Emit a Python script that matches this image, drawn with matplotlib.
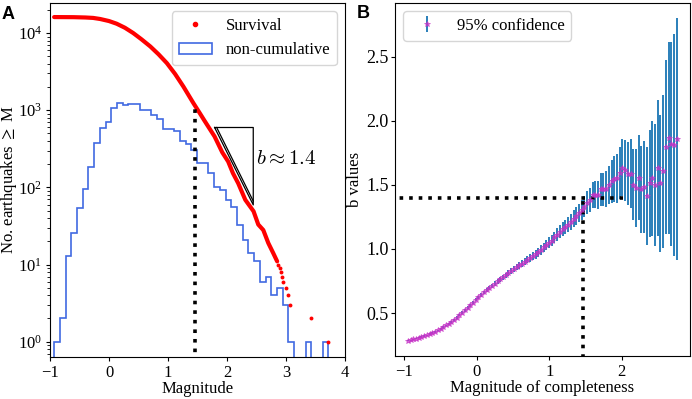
import numpy as np
import matplotlib
matplotlib.use("Agg")
import matplotlib.pyplot as plt
from matplotlib.lines import Line2D

plt.rcParams['font.family'] = ['Liberation Serif', 'DejaVu Serif']
plt.rcParams['mathtext.fontset'] = 'stix'

# ---------------- Panel A data ----------------
hist_lo, hist_hi = -0.93, 3.72
hist_counts = [1, 2, 13, 26, 54, 95, 185, 378, 591, 708,
               1084, 1236, 1164, 1186, 1186, 994, 994, 879, 767, 579,
               579, 532, 404, 367, 306, 210, 210, 155, 102, 93,
               69, 56, 33, 21, 14, 11, 6, 7, 4, 5,
               3, 1, 0, 0, 1, 0, 0, 1]

surv_mag = [-0.93, -0.6, -0.4, -0.27, -0.15, 0.0, 0.13, 0.27, 0.41, 0.55,
            0.70, 0.84, 0.98, 1.12, 1.26, 1.43, 1.54, 1.62, 1.79, 1.92,
            2.02, 2.10, 2.19, 2.31, 2.45, 2.53, 2.615, 2.70, 2.785, 2.85]
surv_count = [16100, 16050, 15900, 15700, 15200, 14300, 13200, 11700, 10000, 8300,
              6700, 5300, 4080, 2950, 2030, 1236, 912, 728, 456, 284,
              216, 153, 113, 69, 49, 33, 28, 19, 14, 11]
tail_mag = [2.87, 2.89, 2.92, 2.94, 2.95, 3.0, 3.04, 3.07, 3.42, 3.72]
tail_count = [10, 9, 8, 7, 6, 5, 4, 3, 2, 1]

mc_value = 1.45
b_value = 1.4
tri_x = [1.79, 2.445]
tri_y = [597, 59.3]

# ---------------- Panel B data ----------------
mc = [-0.950, -0.913, -0.875, -0.838, -0.801, -0.763, -0.725, -0.688, -0.650, -0.613,
      -0.575, -0.538, -0.500, -0.463, -0.425, -0.388, -0.350, -0.313, -0.276, -0.238,
      -0.201, -0.163, -0.126, -0.088, -0.051, -0.013, 0.024, 0.062, 0.099, 0.137,
      0.174, 0.212, 0.249, 0.287, 0.324, 0.361, 0.399, 0.436, 0.474, 0.511,
      0.549, 0.586, 0.624, 0.661, 0.699, 0.736, 0.774, 0.811, 0.849, 0.886,
      0.924, 0.961, 0.998, 1.036, 1.073, 1.111, 1.148, 1.186, 1.223, 1.261,
      1.298, 1.336, 1.373, 1.411, 1.448, 1.486, 1.523, 1.560, 1.598, 1.635,
      1.673, 1.710, 1.748, 1.785, 1.823, 1.860, 1.898, 1.935, 1.973, 2.010,
      2.048, 2.085, 2.123, 2.160, 2.197, 2.235, 2.272, 2.310, 2.347, 2.385,
      2.422, 2.460, 2.497, 2.535, 2.572, 2.610, 2.647, 2.685, 2.722, 2.760]
b_vals = [0.285, 0.290, 0.296, 0.302, 0.308, 0.314, 0.321, 0.328, 0.336, 0.345,
          0.355, 0.366, 0.378, 0.390, 0.404, 0.418, 0.433, 0.449, 0.466, 0.484,
          0.503, 0.522, 0.542, 0.562, 0.582, 0.603, 0.623, 0.642, 0.661, 0.679,
          0.697, 0.714, 0.731, 0.748, 0.764, 0.779, 0.795, 0.812, 0.828, 0.842,
          0.858, 0.872, 0.885, 0.899, 0.915, 0.930, 0.945, 0.958, 0.975, 0.993,
          1.012, 1.030, 1.050, 1.066, 1.090, 1.112, 1.135, 1.155, 1.170, 1.190,
          1.210, 1.235, 1.255, 1.280, 1.305, 1.330, 1.360, 1.383, 1.422, 1.422,
          1.422, 1.466, 1.466, 1.466, 1.500, 1.526, 1.544, 1.552, 1.591, 1.635,
          1.612, 1.586, 1.586, 1.500, 1.474, 1.557, 1.466, 1.481, 1.414, 1.513,
          1.552, 1.500, 1.630, 1.513, 1.604, 1.794, 1.864, 1.820, 1.812, 1.859]
b_err = [0.004, 0.004, 0.004, 0.005, 0.005, 0.005, 0.005, 0.005, 0.006, 0.006,
         0.006, 0.006, 0.007, 0.007, 0.007, 0.008, 0.008, 0.008, 0.009, 0.009,
         0.010, 0.010, 0.011, 0.011, 0.012, 0.012, 0.013, 0.013, 0.014, 0.015,
         0.015, 0.016, 0.017, 0.017, 0.018, 0.019, 0.020, 0.021, 0.022, 0.023,
         0.024, 0.025, 0.026, 0.027, 0.028, 0.030, 0.031, 0.033, 0.034, 0.036,
         0.038, 0.040, 0.042, 0.044, 0.046, 0.048, 0.050, 0.053, 0.056, 0.059,
         0.062, 0.066, 0.069, 0.073, 0.077, 0.082, 0.088, 0.094, 0.100, 0.105,
         0.108, 0.130, 0.130, 0.138, 0.148, 0.169, 0.177, 0.190, 0.200, 0.221,
         0.239, 0.247, 0.270, 0.278, 0.304, 0.328, 0.338, 0.357, 0.380, 0.416,
         0.448, 0.476, 0.528, 0.533, 0.598, 0.676, 0.746, 0.793, 0.866, 0.941]

W, H = 692, 399
fig = plt.figure(figsize=(W / 100, H / 100), dpi=100)
ax1 = fig.add_axes([50 / W, 1 - 357 / H, 295 / W, 354 / H])
ax2 = fig.add_axes([395 / W, 1 - 356 / H, 295 / W, 353 / H])

FS = 12

# ---------------- Panel A ----------------
ax1.set_yscale('log', nonpositive='clip')
edges = np.linspace(hist_lo, hist_hi, len(hist_counts) + 1)
centers = 0.5 * (edges[:-1] + edges[1:])
ax1.plot(surv_mag, surv_count, color='red', lw=3.0, solid_capstyle='round', zorder=3)
ax1.plot(tail_mag, tail_count, 'o', color='red', ms=2.8, mew=0, zorder=3)
ax1.hist(centers, bins=edges, weights=hist_counts, histtype='step',
         color='royalblue', lw=1.2, zorder=2)
ax1.plot([mc_value, mc_value], [0.1, 1150], color='black', ls=':', lw=2.6, zorder=4)
ax1.plot([tri_x[0], tri_x[1], tri_x[1], tri_x[0]],
         [tri_y[0], tri_y[0], tri_y[1], tri_y[0]], color='black', lw=0.9, zorder=5)
ax1.plot([tri_x[0] + 0.035, tri_x[1]], [tri_y[0], tri_y[1] * 1.12],
         color='black', lw=0.9, zorder=5)
ax1.text(2.5, 227, r'$b \approx 1.4$', fontsize=15, va='center', ha='left',
         math_fontfamily='cm')
ax1.set_xlim(-1, 4)
ax1.set_ylim(0.634, 24500)
ax1.set_xlabel('Magnitude', fontsize=FS)
ax1.set_ylabel('No. earthquakes $\\geq$ M', fontsize=FS)
ax1.xaxis.set_label_coords(0.5, -0.068)
ax1.yaxis.set_label_coords(-0.104, 0.5)
ax1.tick_params(axis='both', labelsize=FS, length=3, pad=2.5)
ax1.tick_params(axis='y', which='minor', length=2)
h_surv = Line2D([], [], color='red', marker='o', ms=3, ls='none')
h_hist = plt.Rectangle((0, 0), 1, 1, fill=False, edgecolor='royalblue', lw=1.2)
ax1.legend([h_surv, h_hist], ['Survival', 'non-cumulative'], loc='upper right',
           fontsize=FS, handlelength=2.0)

# ---------------- Panel B ----------------
ax2.errorbar(mc, b_vals, yerr=b_err, fmt='*', ms=4.0,
             mfc=(0.78, 0.2, 0.78, 0.75), mec=(0.78, 0.2, 0.78, 0.75), mew=0.6,
             ecolor='#2a7fba', elinewidth=1.4, capsize=0, label='95% confidence')
ax2.plot([-1.2, 2.02], [b_value, b_value], color='black', ls=':', lw=2.6)
ax2.plot([mc_value + 0.015, mc_value + 0.015], [0.0, b_value], color='black', ls=':', lw=2.6)
ax2.set_xlim(-1.128, 2.943)
ax2.set_ylim(0.166, 2.917)
ax2.set_yticks([0.5, 1.0, 1.5, 2.0, 2.5])
ax2.set_xticks([-1, 0, 1, 2])
ax2.set_xlabel('Magnitude of completeness', fontsize=FS)
ax2.set_ylabel('b values', fontsize=FS)
ax2.xaxis.set_label_coords(0.5, -0.068)
ax2.yaxis.set_label_coords(-0.108, 0.5)
ax2.tick_params(axis='x', labelsize=FS, length=3, pad=2.5)
ax2.tick_params(axis='y', labelsize=13, length=3, pad=1.5)
ax2.legend(loc='upper left', fontsize=FS)

fig.text(2 / W, 1 - 6 / H, 'A', fontsize=13, fontweight='bold', va='top', ha='left',
         family='Liberation Sans')
fig.text(357 / W, 1 - 5 / H, 'B', fontsize=13, fontweight='bold', va='top', ha='left',
         family='Liberation Sans')

fig.savefig('out.png', dpi=100)
